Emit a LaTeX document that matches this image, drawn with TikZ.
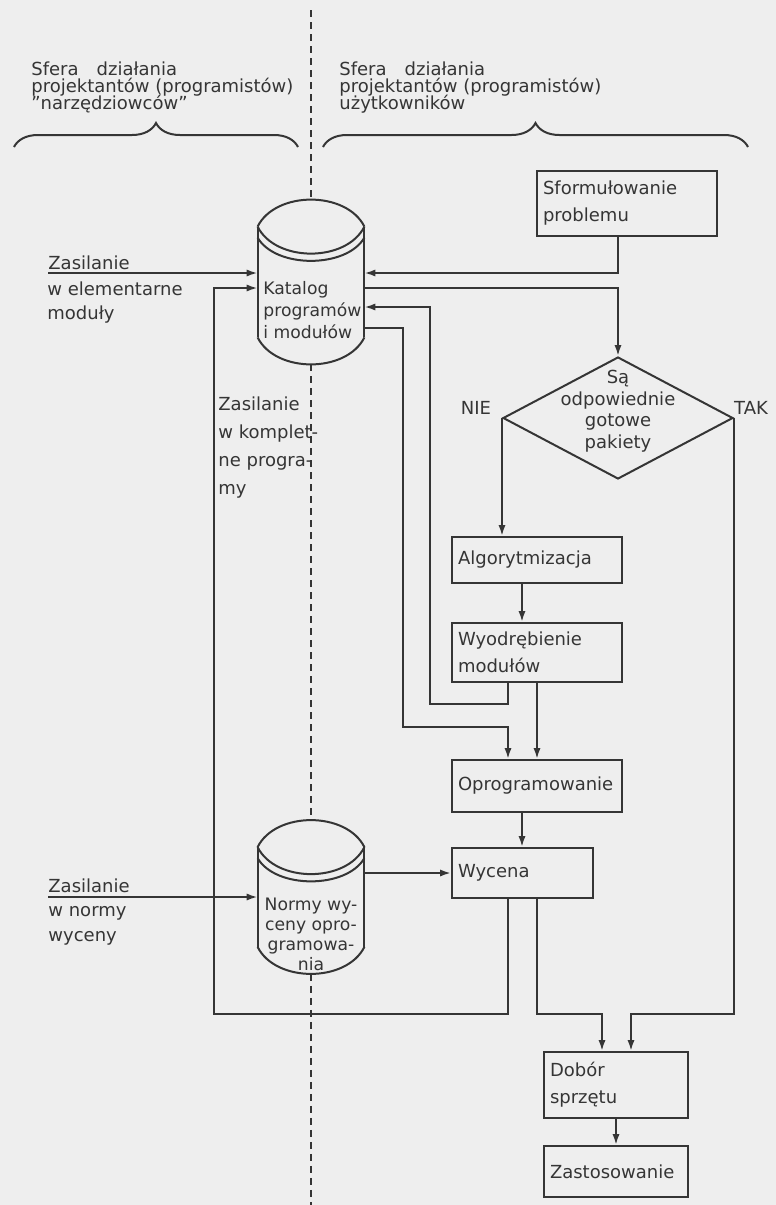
\documentclass[tikz,border=0pt]{standalone}
\usepackage{fontspec}
\setmainfont{DejaVu Sans}
\usetikzlibrary{arrows.meta,positioning,calc,shapes.geometric,decorations.pathreplacing}
\definecolor{tusz}{HTML}{353535}
\definecolor{papier}{HTML}{EEEEEE}

% walec (symbol zbioru danych) wokol wezla #1
\newcommand{\bazadanych}[1]{%
  \draw[linia] (#1.north west) -- (#1.south west) (#1.north east) -- (#1.south east);
  \draw[linia] (#1.north west) .. controls ($(#1.north west)+(18,-36)$) and ($(#1.north east)+(-18,-36)$) .. (#1.north east);
  \draw[linia] (#1.north west) .. controls ($(#1.north west)+(18,36)$) and ($(#1.north east)+(-18,36)$) .. (#1.north east);
  \draw[linia] ($(#1.north west)+(0,11)$) .. controls ($(#1.north west)+(18,42)$) and ($(#1.north east)+(-18,42)$) .. ($(#1.north east)+(0,11)$);
  \draw[linia] (#1.south west) .. controls ($(#1.south west)+(18,36)$) and ($(#1.south east)+(-18,36)$) .. (#1.south east);
}
\newcommand{\ciasno}{\fontsize{9}{8.7}\selectfont\lineskiplimit=-20pt\relax}

\begin{document}
\begin{tikzpicture}[x=0.5pt, y=-0.5pt, every node/.style={font=\fontsize{9}{13.5}\selectfont, text=tusz}]
  \tikzset{linia/.style={draw=tusz, line width=1pt},
           strz/.style={linia, -{Latex[length=5.5pt,width=3.6pt]}},
           przerywana/.style={linia, dash pattern=on 3.5pt off 2.5pt},
           klamra/.style={linia, decorate, decoration={brace, amplitude=12pt}},
           blok/.style={draw=tusz, line width=1pt, align=left, inner xsep=3pt, inner ysep=2pt},
           baza/.style={minimum width=53pt, inner sep=0pt},
           decyzja/.style={draw=tusz, line width=1pt, shape=diamond, inner sep=0pt,
                           minimum width=115pt, minimum height=61pt},
           opis/.style={align=left, inner sep=0pt}}
  \useasboundingbox (0,0) rectangle (776,1205);
  \fill[papier] (0,0) rectangle (776,1205);

  % naglowki
  \node[opis, anchor=north west, font=\ciasno] (sferaL) at (31,61)
       {Sfera\hspace{1em}działania\\projektantów (programistów)\\"narzędziowców"};
  \node[opis, anchor=north west, font=\ciasno] (sferaP) at (339,61)
       {Sfera\hspace{1em}działania\\projektantów (programistów)\\użytkowników};
  \draw[klamra] (14,147) -- (298,147);
  \draw[klamra] (323,147) -- (748,147);

  % zbiory danych
  \node[baza, minimum height=55pt] (kat) at (311,282) {};
  \bazadanych{kat}
  \node[opis, anchor=west, font=\fontsize{8.6}{11}\selectfont] (katt) at (263,310) {Katalog\\programów\\i modułów};
  \node[baza, minimum height=49.5pt] (normy) at (311,897) {};
  \bazadanych{normy}
  \node[opis, align=center, font=\fontsize{8.6}{10}\selectfont] (normyt) at (311,934) {Normy wy-\\ceny opro-\\gramowa-\\nia};

  % przebieg prac
  \node[blok, minimum width=90pt, text width=84pt, minimum height=32.5pt] (problem) at (627,203.5) {Sformułowanie\\problemu};
  \node[decyzja] (dec) at (618,418) {};
  \node[opis, align=center, font=\fontsize{9}{10.8}\selectfont] (dect) at (618,411) {Są\\odpowiednie\\gotowe\\pakiety};
  \node (nie) at (476,408) {NIE};
  \node[anchor=east] (tak) at (775,408) {TAK};
  \node[blok, minimum width=85pt, text width=79pt, minimum height=23pt] (alg) at (537,560) {Algorytmizacja};
  \node[blok, minimum width=85pt, text width=79pt, minimum height=29.5pt] (wyod) at (537,652.5) {Wyodrębienie\\modułów};
  \node[blok, minimum width=85pt, text width=79pt, minimum height=26pt] (oprog) at (537,786) {Oprogramowanie};
  \node[blok, minimum width=70.5pt, text width=64.5pt, minimum height=25pt] (wyc) at (522.5,873) {Wycena};
  \node[blok, minimum width=72pt, text width=66pt, minimum height=33pt] (dobor) at (616,1085) {Dobór\\sprzętu};
  \node[blok, minimum width=72pt, text width=66pt, minimum height=25.5pt] (zast) at (616,1171.5) {Zastosowanie};

  % zasilanie
  \coordinate (zas1) at (48,273);
  \node[opis, anchor=base west] (zas1t) at (48,269) {Zasilanie};
  \node[opis, anchor=north west, font=\fontsize{9}{12}\selectfont] (zas1o) at (47,281) {w elementarne\\moduły};
  \coordinate (zas2) at (48,897);
  \node[opis, anchor=base west] (zas2t) at (48,892) {Zasilanie};
  \node[opis, anchor=north west, font=\fontsize{9}{12.5}\selectfont] (zas2o) at (48,906) {w normy\\wyceny};
  \node[opis, anchor=north west, font=\fontsize{9}{14}\selectfont] (kompl) at (218,396) {Zasilanie\\w komplet-\\ne progra-\\my};

  % punkty przylaczenia i tory
  \coordinate (kw1) at ($(kat.west)+(0,-9)$);
  \coordinate (kw2) at ($(kat.west)+(0,6)$);
  \coordinate (ke1) at ($(kat.east)+(0,-9)$);
  \coordinate (ke2) at ($(kat.east)+(0,6)$);
  \coordinate (ke3) at ($(kat.east)+(0,25)$);
  \coordinate (ke4) at ($(kat.east)+(0,46)$);
  \coordinate (ne) at ($(normy.east)+(0,-24)$);
  \coordinate (rL) at (214,0);
  \coordinate (rA) at (403,0);
  \coordinate (rB) at (430,0);
  \coordinate (rC) at (508,0);
  \coordinate (rM) at (522,0);
  \coordinate (rD) at (537,0);
  \coordinate (rE) at (602,0);
  \coordinate (rF) at (631,0);
  \coordinate (bus) at ($(dobor.north)+(0,-37)$);

  % linia podzialu
  \draw[przerywana] (311,10) -- ($(kat.north)+(0,-27)$);
  \draw[przerywana] ($(kat.south)+(0,27)$) -- ($(normy.north)+(0,-27)$);
  \draw[przerywana] ($(normy.south)+(0,27)$) -- (311,1205);

  % polaczenia
  \draw[strz] (zas1) -- (kw1);
  \draw[strz] (zas2) -- (normy.west);
  \draw[strz] (problem.south -| dec.north) |- (ke1);
  \draw[strz] (ke2) -| (dec.north);
  \draw[strz] (dec.west) -- (dec.west |- alg.north);
  \draw[strz] (alg.south -| rM) -- (wyod.north -| rM);
  \draw[strz] (wyod.south -| rD) -- (oprog.north -| rD);
  \draw[strz] (wyod.south -| rC) -- ++(0,21) -| (ke3 -| rB) -- (ke3);
  \draw[strz] (ke4) -| ($(oprog.north -| rA)+(0,-32)$) -- ($(oprog.north -| rC)+(0,-32)$) -- (oprog.north -| rC);
  \draw[strz] (oprog.south -| rM) -- (wyc.north -| rM);
  \draw[strz] (ne) -- (wyc.west);
  \draw[strz] (wyc.south -| rC) -- (bus -| rC) -| (kw2 -| rL) -- (kw2);
  \draw[strz] (wyc.south -| rD) -- (bus -| rD) -| (dobor.north -| rE);
  \draw[strz] (dec.east) |- (bus -| rF) -- (dobor.north -| rF);
  \draw[strz] (dobor) -- (zast);
\end{tikzpicture}
\end{document}
